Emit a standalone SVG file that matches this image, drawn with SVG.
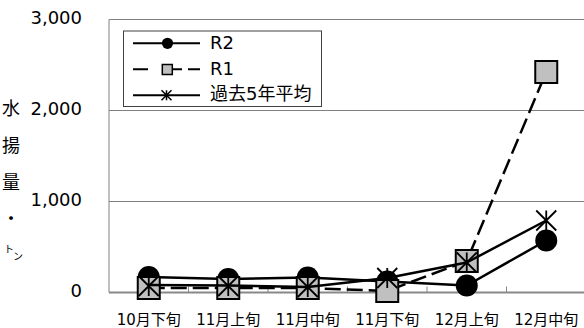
<svg xmlns="http://www.w3.org/2000/svg" width="584" height="328" viewBox="0 0 584 328">
<style>
text{font-family:"DejaVu Sans","Noto Sans CJK JP",sans-serif;fill:#000}
.ylab{font-size:18px;text-anchor:end}
.cat{font-size:15px;text-anchor:middle}
.ttl{font-size:18px;text-anchor:middle}
.leg{font-size:18px}
.grid{stroke:#808080;stroke-width:1;fill:none}
.axis{stroke:#888;stroke-width:2;fill:none}
.tick{stroke:#888;stroke-width:1}
.sol{stroke:#000;stroke-width:2.5;fill:none;stroke-linejoin:round}
.dash{stroke:#000;stroke-width:2.5;fill:none;stroke-dasharray:16 6}
.sq{fill:#c0c0c0;stroke:#000;stroke-width:2}
.star{stroke:#000;stroke-width:1.8;fill:none}
</style>
<defs>
<g id="bigstar"><path d="M-10,-10L10,10M-10,10L10,-10M0,-10V10"/></g>
</defs>
<g id="plot-area">
<path class="grid" d="M109,19.5H584M109,110.5H584M109,201.5H584M109,19.5V292.5"/>
<path class="tick" d="M188.5,286.5V292.5M268,286.5V292.5M347.5,286.5V292.5M427,286.5V292.5M506.5,286.5V292.5"/>
<path class="axis" d="M109,292.5H584"/>
</g>
<g id="y-axis-labels">
<text class="ylab" x="82" y="24">3,000</text>
<text class="ylab" x="82" y="115">2,000</text>
<text class="ylab" x="82" y="206">1,000</text>
<text class="ylab" x="82" y="297">0</text>
</g>
<g id="y-axis-title">
<text class="ttl" x="11" y="115">水</text>
<text class="ttl" x="11" y="152">揚</text>
<text class="ttl" x="11" y="189">量</text>
<text class="ttl" x="11" y="224.5">・</text>
<text x="4" y="253" style="font-size:10px">ト<tspan dx="-1" dy="7">ン</tspan></text>
</g>
<g id="x-axis-labels">
<text class="cat" x="148.75" y="325">10月下旬</text>
<text class="cat" x="228.25" y="325">11月上旬</text>
<text class="cat" x="307.75" y="325">11月中旬</text>
<text class="cat" x="387.25" y="325">11月下旬</text>
<text class="cat" x="466.75" y="325">12月上旬</text>
<text class="cat" x="546.25" y="325">12月中旬</text>
</g>
<g id="connectors">
<g id="series-R2">
<polyline class="sol" points="148.75,277 228.25,279 307.75,277.5 387.25,281.5 466.75,285.5 546.25,240.5"/>
<circle cx="148.75" cy="277" r="11"/>
<circle cx="228.25" cy="279" r="11"/>
<circle cx="307.75" cy="277.5" r="11"/>
<circle cx="387.25" cy="281.5" r="11"/>
<circle cx="466.75" cy="285.5" r="11"/>
<circle cx="546.25" cy="240.5" r="11"/>
</g>
<g id="series-R1">
<polyline class="dash" points="148.75,288 228.25,288 307.75,288 387.25,291 466.75,261 546.25,72"/>
<rect class="sq" x="137.75" y="277" width="22" height="22"/>
<rect class="sq" x="217.25" y="277" width="22" height="22"/>
<rect class="sq" x="296.75" y="277" width="22" height="22"/>
<rect class="sq" x="376.25" y="280" width="22" height="22"/>
<rect class="sq" x="455.75" y="250" width="22" height="22"/>
<rect class="sq" x="535.25" y="61" width="22" height="22"/>
</g>
<g id="series-avg5">
<polyline class="sol" points="148.75,285 228.25,285.5 307.75,287 387.25,278 466.75,262.5 546.25,220.5"/>
<g class="star">
<use href="#bigstar" x="148.75" y="286"/>
<use href="#bigstar" x="228.25" y="286"/>
<use href="#bigstar" x="307.75" y="287"/>
<use href="#bigstar" x="387.25" y="278"/>
<use href="#bigstar" x="466.75" y="262.5"/>
<use href="#bigstar" x="546.25" y="220.5"/>
</g>
</g>
</g>
<g id="legend">
<rect x="123.5" y="31" width="198" height="75.5" fill="#fff" stroke="#404040" stroke-width="1"/>
<g id="legend-R2">
<path d="M133,43.3H200" stroke="#000" stroke-width="2"/>
<circle cx="167.5" cy="43.3" r="5.6"/>
<text class="leg" x="210" y="48.5">R2</text>
</g>
<g id="legend-R1">
<path d="M133,69.3H148M163,69.3H182M188,69.3H200" stroke="#000" stroke-width="2"/>
<rect x="162.3" y="64.5" width="10" height="10" fill="#c0c0c0" stroke="#000" stroke-width="1.5"/>
<text class="leg" x="210" y="75">R1</text>
</g>
<g id="legend-avg5">
<path d="M133,95.3H200" stroke="#000" stroke-width="2"/>
<path d="M161.5,90.3L171.5,100.3M161.5,100.3L171.5,90.3M166.5,90.3V100.3" stroke="#000" stroke-width="1.5"/>
<text class="leg" x="210" y="99.5">過去5年平均</text>
</g>
</g>
</svg>
